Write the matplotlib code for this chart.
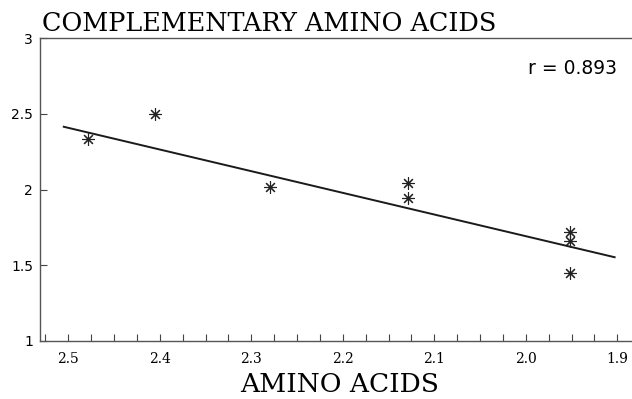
import matplotlib
matplotlib.use("Agg")

import matplotlib.pyplot as plt
from matplotlib.ticker import MultipleLocator

# values
amino = [2.479, 2.405, 2.280, 2.129, 2.129, 1.952, 1.952, 1.952]
complementary = [2.336, 2.500, 2.015, 2.046, 1.947, 1.720, 1.660, 1.450]

# regression line end points
fit_x = [2.505, 1.903]
fit_y = [2.414, 1.553]

r_text = "r = 0.893"

fig = plt.figure(figsize=(6.32, 3.99), dpi=100)
ax = fig.add_axes([40 / 632, 1 - 341 / 399, 1 - 40 / 632, (341 - 38) / 399])

ax.plot(fit_x, fit_y, color="#1a1a1a", lw=1.4)
ax.plot(amino, complementary, ls="none", marker=(8, 2, 0), ms=9,
        mec="#222222", mew=0.8)

ax.set_xlim(2.531, 1.884)
ax.set_ylim(1, 3)

ax.xaxis.set_minor_locator(MultipleLocator(0.025))
ax.set_xticks([2.5, 2.4, 2.3, 2.2, 2.1, 2.0, 1.9])
ax.set_xticklabels(["2.5", "2.4", "2.3", "2.2", "2.1", "2.0", "1.9"],
                   family="DejaVu Serif", fontsize=10)
ax.set_yticks([1, 1.5, 2, 2.5, 3])
ax.set_yticklabels(["1", "1.5", "2", "2.5", "3"], fontsize=10)

ax.tick_params(axis="x", which="both", direction="in", length=5,
               width=0.8, color="#444444", pad=8)
ax.tick_params(axis="y", direction="in", length=5, width=0.8,
               color="#444444", pad=5)

ax.spines["right"].set_visible(False)
for s in ["left", "top", "bottom"]:
    ax.spines[s].set_color("#555555")
    ax.spines[s].set_linewidth(1.0)

ax.text(0.975, 0.898, r_text, transform=ax.transAxes, ha="right",
        va="center", fontsize=13.5)

fig.text(42 / 632, 1 - 31 / 399, "COMPLEMENTARY AMINO ACIDS",
         family="DejaVu Serif", fontsize=18.4, ha="left", va="baseline")
fig.text(340 / 632, 1 - 392 / 399, "AMINO ACIDS",
         family="DejaVu Serif", fontsize=19, ha="center", va="baseline")

fig.savefig("out.png", dpi=100)
plt.close(fig)
